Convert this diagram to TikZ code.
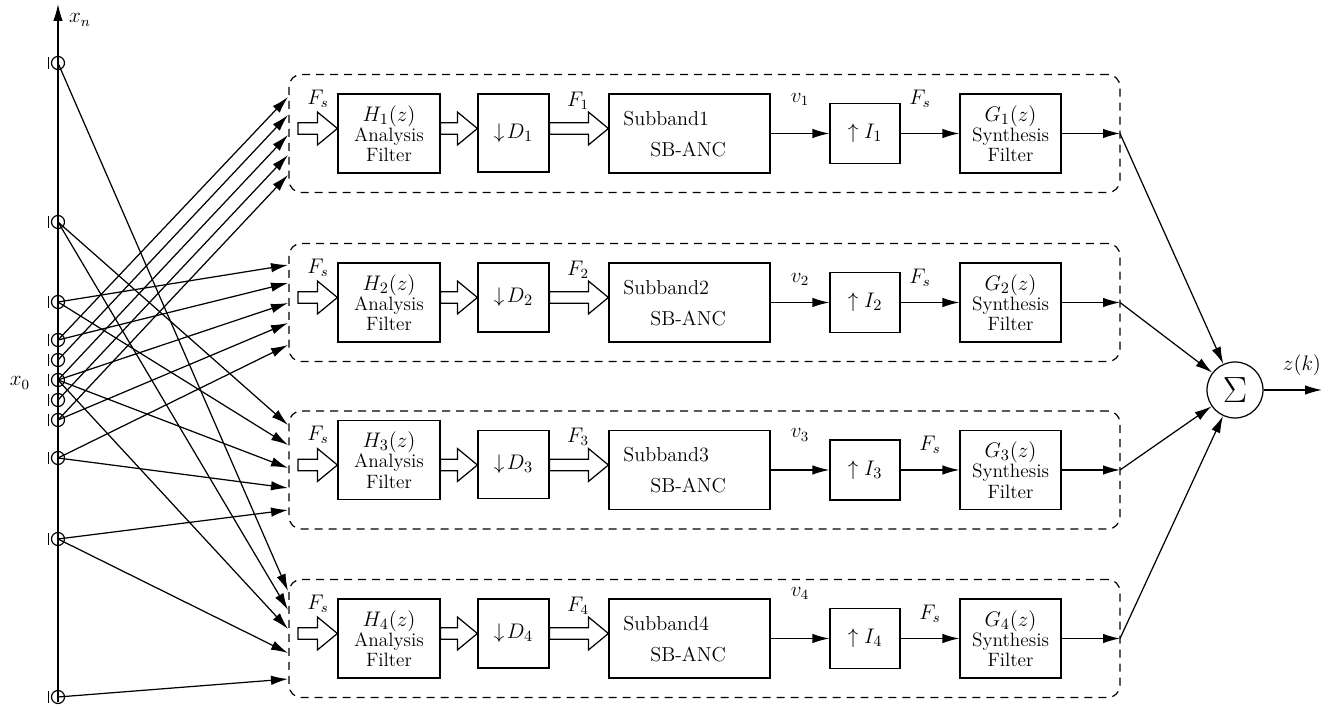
\documentclass[tikz,border=0pt]{standalone}
\usepackage{amsmath}
\usetikzlibrary{arrows.meta,calc}

\begin{document}
\begin{tikzpicture}[x=0.02cm, y=-0.02cm, font=\fontsize{12}{14}\selectfont,
    sig/.style={-{Latex[length=0.34cm,width=0.19cm]}, line width=0.7pt},
    blk/.style={draw, rectangle, line width=0.7pt, inner sep=1pt, align=center},
    band/.style={draw, rectangle, line width=0.7pt, dash pattern=on 0.16cm off 0.12cm, rounded corners=0.24cm},
    mic/.style={draw, circle, line width=0.7pt, minimum size=0.26cm, inner sep=0pt},
    hollow/.style={line width=0.7pt, line join=miter, to path={let \p1=(\tikztostart), \p2=(\tikztotarget) in
        (\x1,\y1+0.116cm) -- (\x2-0.4cm,\y1+0.116cm) -- (\x2-0.4cm,\y1+0.33cm) -- (\x2,\y1)
        -- (\x2-0.4cm,\y1-0.33cm) -- (\x2-0.4cm,\y1-0.116cm) -- (\x1,\y1-0.116cm) -- cycle}}]

    \useasboundingbox (0,0) rectangle (1330,705);

    % nested microphone array
    \coordinate (axbot) at (58,702);
    \coordinate (axtop) at (58,4);
    \draw[sig] (axbot) -- (axtop);
    \node (xn) at (80,20) {$x_n$};
    \node (xo) at (20,383) {$x_0$};
    \foreach \k/\y in {1/63, 2/222, 3/302, 4/340, 5/360, 6/380, 7/400, 8/420, 9/458, 10/539, 11/697} {
        \node[mic] (m\k) at (58,\y) {};
        \draw[line width=0.9pt] ([xshift=-0.19cm,yshift=0.12cm]m\k.center) -- ([xshift=-0.19cm,yshift=-0.12cm]m\k.center);
    }

    % one chain per subband
    \foreach \i/\c/\dh/\hs/\vo/\fx/\fo in {1/133.5/78/0/34/920/35, 2/302.5/69/0/23/920/25, 3/470/68/10/35/930/25, 4/638.5/69/0/45/930/25} {
        \node[band, minimum width=16.62cm, minimum height=2.36cm] (band\i) at (704.5,\c) {};
        \node[blk, minimum width=2.04cm, minimum height=1.58cm, font=\fontsize{11}{11.5}\selectfont] (h\i) at (389,\c-\hs)
            {{\fontsize{12.5}{13}\selectfont $H_\i(z)$}\\Analysis\\Filter};
        \pgfmathsetmacro\dy{\c-39.5+\dh/2}
        \node[blk, minimum width=1.42cm, minimum height={\dh*0.02cm}, font=\fontsize{12.5}{14}\selectfont] (d\i) at (513.5,\dy) {$\downarrow\!D_\i$};
        \node[blk, minimum width=3.22cm, minimum height=1.58cm] (s\i) at (689.5,\c) {};
        \node[anchor=west, inner sep=0pt, font=\fontsize{11.5}{13}\selectfont] (st\i) at (623,\c-15) {Subband\i};
        \node[anchor=west, inner sep=0pt, font=\fontsize{11.5}{13}\selectfont] (sa\i) at (650,\c+16) {SB-ANC};
        \node[blk, minimum width=1.4cm, minimum height=1.2cm, font=\fontsize{12.5}{14}\selectfont] (i\i) at (865,\c) {$\uparrow I_\i$};
        \node[blk, minimum width=2.02cm, minimum height=1.58cm, font=\fontsize{11}{11.5}\selectfont] (g\i) at (1010.5,\c)
            {{\fontsize{12.5}{13}\selectfont $G_\i(z)$}\\Synthesis\\Filter};

        \coordinate (fs\i) at (298,\c-5);
        \coordinate (o\i) at (1120,\c);
        \draw[hollow] (fs\i) to (h\i.west);
        \draw[hollow] (h\i.east |- fs\i) to (d\i.west);
        \draw[hollow] (d\i.east |- fs\i) to (s\i.west);
        \draw[sig] (s\i) -- (i\i);
        \draw[sig] (i\i) -- (g\i);
        \draw[sig] (g\i) -- (o\i);

        \node (fsl\i) at (318,\c-35) {$F_s$};
        \node (fl\i) at (578,\c-33) {$F_\i$};
        \node (vl\i) at (800,\c-\vo) {$v_\i$};
        \node (fsr\i) at (\fx,\c-\fo) {$F_s$};
    }

    % microphones feeding each subband
    \foreach \e in {97,115,135,155,175,265,283,303,323,345,425,445,468,488,510,591,610,629,653,679}
        \coordinate (t\e) at (288,\e);
    \foreach \k/\e in {4/97, 5/115, 6/135, 7/155, 8/175, 3/265, 4/283, 6/303, 8/323, 9/345,
                       2/425, 3/445, 6/468, 9/488, 10/510, 1/591, 2/610, 6/629, 10/653, 11/679}
        \draw[sig] (m\k.center) -- (t\e);

    % summation
    \node[draw, circle, line width=0.7pt, minimum size=1.12cm, inner sep=0pt] (sum) at (1235,390) {\fontsize{22}{24}\selectfont$\Sigma$};
    \foreach \i in {1,...,4}
        \draw[sig] (o\i) -- (sum);
    \coordinate (zout) at (1322,390);
    \draw[sig] (sum) -- (zout);
    \node (zk) at (1302,365) {$z(k)$};

\end{tikzpicture}
\end{document}
